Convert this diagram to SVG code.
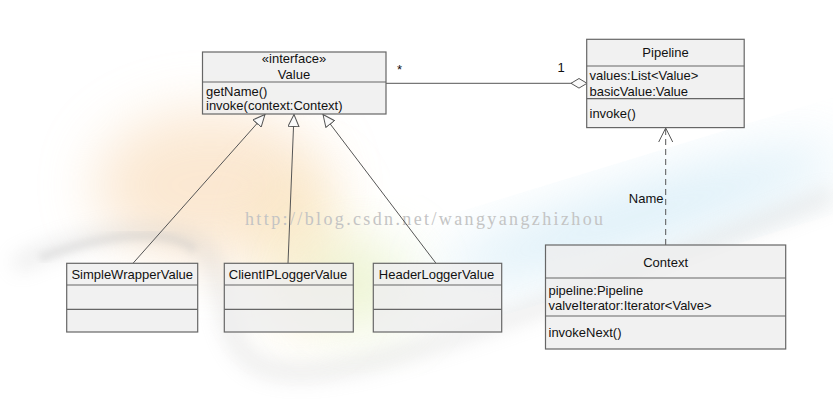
<svg xmlns="http://www.w3.org/2000/svg" width="833" height="419" viewBox="0 0 833 419">
<defs>
  <filter id="blur30" x="-50%" y="-50%" width="200%" height="200%"><feGaussianBlur stdDeviation="28"/></filter>
  <filter id="blur12" x="-50%" y="-50%" width="200%" height="200%"><feGaussianBlur stdDeviation="10"/></filter>
  <filter id="blur4" x="-20%" y="-20%" width="140%" height="140%"><feGaussianBlur stdDeviation="3"/></filter>
  <marker id="gen" viewBox="0 0 13 12" refX="12.5" refY="6" markerWidth="13" markerHeight="12" markerUnits="userSpaceOnUse" orient="auto">
    <path d="M0.5,0.5 L12.5,6 L0.5,11.5 Z" fill="#fafafa" stroke="#555" stroke-width="1"/>
  </marker>
  <marker id="open" viewBox="0 0 16 16" refX="15" refY="8" markerWidth="16" markerHeight="16" markerUnits="userSpaceOnUse" orient="auto">
    <path d="M1,1 L15,8 L1,15" fill="none" stroke="#555" stroke-width="1"/>
  </marker>
  <marker id="agg" viewBox="0 0 17 11" refX="16.5" refY="5.5" markerWidth="17" markerHeight="11" markerUnits="userSpaceOnUse" orient="auto">
    <path d="M0.5,5.5 L8.5,0.7 L16.5,5.5 L8.5,10.3 Z" fill="#fafafa" stroke="#555" stroke-width="1"/>
  </marker>
</defs>
<style>
  .box { fill: #eeeeee; fill-opacity: 0.82; stroke: #666; stroke-width: 1.2; }
  .sep { stroke: #666; stroke-width: 1.2; fill: none; }
  .t { font-family: "Liberation Sans", Arial, sans-serif; font-size: 13px; fill: #111; }
  .c { text-anchor: middle; }
  .line { stroke: #555; stroke-width: 1; fill: none; }
  .dash { stroke: #555; stroke-width: 1; fill: none; stroke-dasharray: 6 4; }
  .wm { font-family: "Liberation Serif", "Times New Roman", serif; font-size: 18px; fill: #c4c4c4; }
</style>

<!-- background -->
<rect x="0" y="0" width="833" height="419" fill="#ffffff"/>
<g id="background">
  <ellipse cx="210" cy="185" rx="115" ry="75" fill="#f8d6ae" opacity="0.55" filter="url(#blur30)"/>
  <ellipse cx="300" cy="250" rx="45" ry="80" fill="#f7e2b0" opacity="0.5" filter="url(#blur30)"/>
  <ellipse cx="360" cy="285" rx="55" ry="45" fill="#dfeeb8" opacity="0.55" filter="url(#blur30)"/>
  <ellipse cx="640" cy="215" rx="210" ry="28" transform="rotate(-17 640 215)" fill="#bfe2f3" opacity="0.6" filter="url(#blur30)"/>
  <path d="M15,265 C80,235 160,220 200,245 C230,270 215,330 250,360 C300,395 420,350 560,300 C680,255 780,215 833,195" stroke="#b8b8b8" stroke-width="14" fill="none" opacity="0.3" filter="url(#blur12)"/>
  <path d="M40,258 C110,232 170,228 195,250" stroke="#c4c4c4" stroke-width="10" fill="none" opacity="0.3" filter="url(#blur4)"/>
  <text class="wm" x="245" y="225" textLength="358" lengthAdjust="spacing">http://blog.csdn.net/wangyangzhizhou</text>
</g>

<!-- connectors -->
<g id="connectors">
  <line class="line" x1="386" y1="83.3" x2="587" y2="83.3" marker-end="url(#agg)"/>
  <text class="t" x="397" y="74">*</text>
  <text class="t" x="557.5" y="71.5">1</text>
  <line class="line" x1="133" y1="263.3" x2="265" y2="114.5" marker-end="url(#gen)"/>
  <line class="line" x1="288" y1="263.3" x2="294" y2="114.5" marker-end="url(#gen)"/>
  <line class="line" x1="436" y1="263.3" x2="323" y2="114.5" marker-end="url(#gen)"/>
  <line class="dash" x1="665.7" y1="245" x2="665.7" y2="128" marker-end="url(#open)"/>
  <text class="t" x="663.5" y="202.5" text-anchor="end">Name</text>
</g>

<!-- Value interface -->
<g id="node-value">
  <rect class="box" x="202.5" y="52" width="183.5" height="62"/>
  <line class="sep" x1="202.5" y1="82" x2="386" y2="82"/>
  <text class="t c" x="294" y="62.5">«interface»</text>
  <text class="t c" x="294" y="79">Value</text>
  <text class="t" x="206" y="96">getName()</text>
  <text class="t" x="206" y="109.5">invoke(context:Context)</text>
</g>

<!-- Pipeline -->
<g id="node-pipeline">
  <rect class="box" x="586.7" y="39.3" width="157.5" height="88.3"/>
  <line class="sep" x1="586.7" y1="66" x2="744.2" y2="66"/>
  <line class="sep" x1="586.7" y1="98.7" x2="744.2" y2="98.7"/>
  <text class="t c" x="665.5" y="57">Pipeline</text>
  <text class="t" x="589.5" y="80">values:List&lt;Value&gt;</text>
  <text class="t" x="589.5" y="95.5">basicValue:Value</text>
  <text class="t" x="589.5" y="117.5">invoke()</text>
</g>

<!-- Context -->
<g id="node-context">
  <rect class="box" x="545.5" y="245" width="240.2" height="104"/>
  <line class="sep" x1="545.5" y1="278" x2="785.7" y2="278"/>
  <line class="sep" x1="545.5" y1="316" x2="785.7" y2="316"/>
  <text class="t c" x="665.6" y="266.5">Context</text>
  <text class="t" x="548.5" y="294.5">pipeline:Pipeline</text>
  <text class="t" x="548.5" y="310">valveIterator:Iterator&lt;Valve&gt;</text>
  <text class="t" x="548.5" y="337">invokeNext()</text>
</g>

<!-- SimpleWrapperValue -->
<g id="node-simplewrappervalue">
  <rect class="box" x="66.7" y="263.3" width="131" height="68.7"/>
  <line class="sep" x1="66.7" y1="285" x2="197.7" y2="285"/>
  <line class="sep" x1="66.7" y1="309.3" x2="197.7" y2="309.3"/>
  <text class="t c" x="132.2" y="279">SimpleWrapperValue</text>
</g>

<!-- ClientIPLoggerValue -->
<g id="node-clientiploggervalue">
  <rect class="box" x="224.3" y="263.3" width="129" height="68.7"/>
  <line class="sep" x1="224.3" y1="285" x2="353.3" y2="285"/>
  <line class="sep" x1="224.3" y1="309.3" x2="353.3" y2="309.3"/>
  <text class="t c" x="288" y="279">ClientIPLoggerValue</text>
</g>

<!-- HeaderLoggerValue -->
<g id="node-headerloggervalue">
  <rect class="box" x="373.3" y="263.3" width="128.4" height="68.7"/>
  <line class="sep" x1="373.3" y1="285" x2="501.7" y2="285"/>
  <line class="sep" x1="373.3" y1="309.3" x2="501.7" y2="309.3"/>
  <text class="t c" x="436.5" y="279">HeaderLoggerValue</text>
</g>
</svg>
